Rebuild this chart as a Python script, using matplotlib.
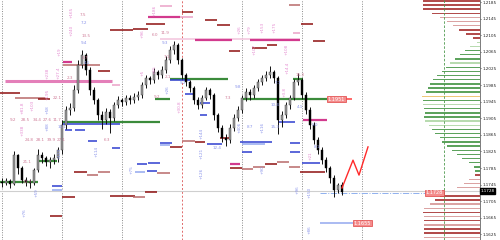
import matplotlib
matplotlib.use("Agg")
import matplotlib.pyplot as plt
import numpy as np

# --- price bars (one bar every slot, prices) ---
closes = [1.1749, 1.1754, 1.1747, 1.1816, 1.1785, 1.1756, 1.1751, 1.1749, 1.1780, 1.1816,
          1.1809, 1.1800, 1.1804, 1.1809, 1.1828, 1.1889, 1.1925, 1.1930, 1.1973, 1.2033,
          1.2057, 1.2021, 1.1973, 1.1949, 1.1913, 1.1901, 1.1920, 1.1906, 1.1937, 1.1949,
          1.1944, 1.1954, 1.1949, 1.1956, 1.1961, 1.1985, 1.2002, 1.1997, 1.2017, 1.2009,
          1.2021, 1.2045, 1.2070, 1.2082, 1.2045, 1.2009, 1.1992, 1.1978, 1.1949, 1.1937,
          1.1954, 1.1973, 1.1961, 1.1913, 1.1882, 1.1857, 1.1853, 1.1882, 1.1906, 1.1925,
          1.1954, 1.1968, 1.1961, 1.1978, 1.1992, 1.2002, 1.2009, 1.2017, 1.2002, 1.1901,
          1.1913, 1.1937, 1.1954, 1.1992, 1.1997, 1.1961, 1.1925, 1.1889, 1.1853, 1.1828,
          1.1804, 1.1785, 1.1761, 1.1732, 1.1744, 1.1728]
highs = [1.1760, 1.1762, 1.1758, 1.1825, 1.1820, 1.1790, 1.1763, 1.1758, 1.1786, 1.1830,
         1.1824, 1.1815, 1.1812, 1.1818, 1.1836, 1.1900, 1.1935, 1.1942, 1.1985, 1.2045,
         1.2070, 1.2062, 1.2028, 1.1980, 1.1955, 1.1922, 1.1930, 1.1928, 1.1945, 1.1958,
         1.1955, 1.1962, 1.1960, 1.1965, 1.1970, 1.1992, 1.2010, 1.2008, 1.2025, 1.2022,
         1.2030, 1.2055, 1.2080, 1.2090, 1.2086, 1.2050, 1.2015, 1.1998, 1.1983, 1.1956,
         1.1962, 1.1980, 1.1978, 1.1965, 1.1918, 1.1888, 1.1866, 1.1890, 1.1915, 1.1934,
         1.1962, 1.1978, 1.1975, 1.1986, 1.2000, 1.2010, 1.2018, 1.2030, 1.2022, 1.2006,
         1.1922, 1.1945, 1.1962, 1.2000, 1.2014, 1.2002, 1.1968, 1.1932, 1.1895, 1.1860,
         1.1835, 1.1812, 1.1790, 1.1768, 1.1750, 1.1752]
lows = [1.1740, 1.1743, 1.1738, 1.1744, 1.1770, 1.1748, 1.1742, 1.1736, 1.1745, 1.1776,
        1.1798, 1.1790, 1.1786, 1.1795, 1.1800, 1.1818, 1.1880, 1.1912, 1.1922, 1.1965,
        1.2025, 1.2010, 1.1962, 1.1940, 1.1900, 1.1880, 1.1892, 1.1870, 1.1898, 1.1930,
        1.1935, 1.1936, 1.1940, 1.1942, 1.1948, 1.1955, 1.1978, 1.1988, 1.1990, 1.2000,
        1.2002, 1.2015, 1.2038, 1.2060, 1.2035, 1.2000, 1.1982, 1.1968, 1.1940, 1.1928,
        1.1930, 1.1948, 1.1952, 1.1900, 1.1872, 1.1848, 1.1838, 1.1846, 1.1875, 1.1898,
        1.1918, 1.1946, 1.1950, 1.1955, 1.1970, 1.1985, 1.1995, 1.2002, 1.1990, 1.1868,
        1.1885, 1.1905, 1.1928, 1.1948, 1.1985, 1.1952, 1.1915, 1.1878, 1.1842, 1.1818,
        1.1795, 1.1775, 1.1750, 1.1715, 1.1725, 1.1720]
opens = [1.1752] + closes[:-1]

# --- projected path (red zigzag) ---
proj_bar = [85, 87.75, 89.25, 91.5]
proj_price = [1.1737, 1.1804, 1.1768, 1.1836]

# --- level segments: price, first bar, last bar, kind ---
seg_price = [1.1995, 1.1966, 1.1954, 1.1951, 1.2118, 1.2120, 1.2132, 1.2149, 1.2176, 1.2019,
             1.2033, 1.2041, 1.1985, 1.2161, 1.2149, 1.2142, 1.2130, 1.2096, 1.2094, 1.2094,
             1.2067, 1.2074, 1.2082, 1.2178, 1.2132, 1.2110, 1.2091, 1.2000, 1.1997, 1.1951,
             1.1951, 1.2000, 1.1963, 1.1942, 1.1913, 1.1751, 1.1802, 1.1896, 1.1891, 1.1877,
             1.1877, 1.1850, 1.1833, 1.1845, 1.1841, 1.1795, 1.1797, 1.1775, 1.1778, 1.1775,
             1.1768, 1.1775, 1.1773, 1.1742, 1.1732, 1.1715, 1.1718, 1.1715, 1.1727, 1.1669,
             1.1836, 1.1850, 1.1848, 1.1843, 1.1843, 1.1824, 1.1845, 1.1824, 1.1795, 1.1785,
             1.1783, 1.1788, 1.1795, 1.1800, 1.1788, 1.1797, 1.1775, 1.1901, 1.1896, 1.1848,
             1.1652, 1.1857, 1.1951]
seg_start = [0.75, -0.5, 3.25, 9, 27, 32.75, 36, 36.5, 39.5, 24,
             15.25, 15.25, 27.5, 45, 44.5, 50.75, 53.75, 39.5, 48.25, 62,
             56.75, 62.5, 66.25, 71.75, 74.75, 72.75, 77.75, 42, 42, 38.25,
             60, 72.75, 45.75, 49.5, 49.5, -0.5, 8.75, 15.25, 15, 15.75,
             18.25, 21.5, 27.5, 39.5, 39.5, 33.75, 36.5, 33.25, 36.25, 18,
             21.25, 24, 38.75, 12.5, 12.5, 15, 27, 32.75, 35.75, 12,
             42, 45, 48.25, 51.25, 60, 60, 72, 72, 57, 57,
             60, 62.75, 65.75, 68.75, 71.75, 75, 74.5, 75.25, 69, 59.5,
             79.5, 54.5, 85.75]
seg_end = [27.5, 4.5, 10.75, 12, 32.75, 36.5, 40.75, 44.5, 42.5, 27,
           24.5, 17.5, 29.5, 47.75, 47.75, 53.75, 57, 74.5, 57.5, 74.5,
           59.5, 66.25, 68.75, 74.5, 77.75, 74.5, 80.75, 56.5, 47, 42,
           81.25, 75.25, 48.25, 52, 51.25, 9, 13.75, 39.5, 29.5, 17.5,
           20.75, 23.75, 29.5, 42.5, 42, 36.25, 39.5, 35.75, 38.75, 21.25,
           24, 27, 42, 15, 15, 18.25, 33.25, 35.75, 38.75, 15,
           45, 48.25, 50.75, 55, 65.75, 62.5, 74.5, 74.5, 59.5, 60,
           62.75, 65.75, 68.75, 71.75, 74.5, 79.5, 80.75, 81.25, 73.25, 67.5,
           87.75, 57, 87.5]
seg_kind = ["pinkthick", "dred", "brown", "dred", "dred", "dred", "dred", "mag", "pink", "dred",
            "brown", "mag", "pink", "dred", "pink", "dred", "dred", "lpink", "mag", "mag",
            "dred", "dred", "dred", "brown", "dred", "pink", "dred", "green", "blue", "green",
            "green", "green", "blue", "blue", "blue", "green", "green", "green", "blue", "blue",
            "blue", "blue", "blue", "blue", "lblue", "blue", "blue", "lblue", "blue", "dred",
            "brown", "brown", "brown", "blue", "lblue", "dred", "dred", "brown", "dred", "dred",
            "dred", "brown", "dred", "blue", "lblue", "blue", "blue", "blue", "mag", "dred",
            "brown", "brown", "dred", "brown", "brown", "blue", "dred", "mag", "blue", "blue",
            "lblue", "dred", "red"]

# --- small volume/delta labels ---
ann_text = ["+165", "+240", "7.5", "7.2", "13.5", "9.4", "+19", "+238", "+27.4", "+195",
            "+58", "22.1", "3.7", "4.1", "2.3", "+96", "+186", "6.0", "+5", "+65",
            "9.2", "9.2", "28.5", "34.4", "27.6", "11.7", "+81.8", "+103", "+88", "+338",
            "24.8", "28.1", "39.9", "27.1", "21.1", "10.3", "+123", "+59", "+76", "+114",
            "6.3", "+75", "10.1", "+144", "+121", "+126", "12.4", "+116", "+90", "+96",
            "+150", "+86", "8.7", "15.3", "5.0", "+406", "11.9", "9.3", "7.1",
            "2.1", "9.2", "+30.8", "+26", "+26", "+79", "+107", "+153", "+175", "+108",
            "9.8", "7.3", "7.1", "+14.4", "15.3", "10.4", "+3.8", "4.1", "8.1", "+21"]
ann_bar = [17.5, 17.5, 20.25, 20.5, 21, 20.5, 14.5, 11.5, 14.25, 11.5,
           11.5, 13.75, 20.75, 21.25, 17, 35.25, 38.25, 38.25, 35.25, 38.25,
           38.75, 2.75, 5.75, 8.75, 11.25, 13.75, 5.25, 7.75, 11.5, 5.25,
           6.75, 9.5, 12.25, 14.75, 6.25, 6.25, 14.5, 8.75, 5.75, 23.75,
           26.25, 32.5, 15, 50, 50, 50, 53.75, 65.25, 65.25, 74,
           77, 77, 62, 68.25, 78.25, 59.5, 40.75, 40.75, 41.25,
           41.5, 45.25, 44.5, 41.5, 59.5, 62, 63.25, 65.25, 68.25, 71.25,
           59, 56.5, 69, 71.5, 74.5, 68.25, 70.75, 74.5, 78.75, 77.25]
ann_price = [1.2161, 1.2118, 1.2154, 1.2135, 1.2103, 1.2086, 1.2065, 1.2014, 1.2014, 1.1963,
             1.1925, 1.1954, 1.2050, 1.2038, 1.2002, 1.2110, 1.2166, 1.2106, 1.2014, 1.2021,
             1.1956, 1.1901, 1.1901, 1.1901, 1.1901, 1.1901, 1.1930, 1.1937, 1.1884, 1.1877,
             1.1853, 1.1853, 1.1853, 1.1853, 1.1800, 1.1751, 1.1821, 1.1725, 1.1677, 1.1824,
             1.1853, 1.1780, 1.1884, 1.1869, 1.1821, 1.1773, 1.1833, 1.1882, 1.1780, 1.1732,
             1.1727, 1.1636, 1.1884, 1.1884, 1.1889, 1.1884, 1.2110, 1.2086, 1.2053,
             1.2004, 1.1990, 1.1932, 1.1973, 1.2118, 1.2118, 1.2070, 1.2123, 1.2125, 1.2070,
             1.1980, 1.1954, 1.1990, 1.2026, 1.2009, 1.1937, 1.1968, 1.1932, 1.1836, 1.1815]
ann_kind = ["pv", "pv", "m", "b", "m", "b", "pv", "pv", "pv", "pv",
            "bv", "m", "m", "b", "m", "pv", "pv", "m", "pv", "pv",
            "m", "m", "m", "m", "m", "m", "pv", "pv", "bv", "pv",
            "m", "m", "m", "m", "m", "m", "bv", "bv", "bv", "bv",
            "m", "bv", "b", "bv", "bv", "bv", "b", "bv", "bv", "bv",
            "bv", "bv", "b", "b", "b", "bv", "m", "b", "m",
            "m", "b", "pv", "bv", "pv", "pv", "pv", "pv", "pv", "pv",
            "b", "m", "b", "pv", "m", "b", "pv", "b", "b", "pv"]

# --- volume profile on the right ---
profile_price = [1.2188, 1.2178, 1.2168, 1.2158, 1.2148, 1.2138, 1.2128, 1.2118, 1.2108, 1.2098,
                 1.2088, 1.2078, 1.2068, 1.2058, 1.2048, 1.2038, 1.2028, 1.2018, 1.2008, 1.1998,
                 1.1988, 1.1978, 1.1968, 1.1958, 1.1948, 1.1938, 1.1928, 1.1918, 1.1908, 1.1898,
                 1.1888, 1.1878, 1.1868, 1.1858, 1.1848, 1.1838, 1.1828, 1.1818, 1.1808, 1.1798,
                 1.1788, 1.1778, 1.1768, 1.1758, 1.1748, 1.1738, 1.1728, 1.1718, 1.1708, 1.1698,
                 1.1688, 1.1678, 1.1668, 1.1658, 1.1648, 1.1638, 1.1628, 1.1618]
profile_vol = [57, 57, 57, 48, 40, 33, 27, 21, 14, 7,
               3, 10, 15, 20, 25, 30, 34, 38, 43, 47,
               50, 52, 54, 58, 57, 57, 56, 55, 56, 55,
               51, 48, 45, 40, 38, 33, 28, 23, 18, 11,
               6, 5, 5, 11, 16, 23, 30, 40, 45, 50,
               56, 57, 56, 56, 56, 56, 56, 56]
profile_kind = ["r", "r", "r", "r", "p", "p", "p", "r", "r", "r",
                "l", "l", "g", "g", "g", "l", "g", "g", "g", "g",
                "g", "g", "g", "o", "g", "l", "g", "g", "g", "l",
                "l", "g", "g", "g", "g", "g", "g", "g", "g", "g",
                "g", "g", "r", "p", "p", "p", "r", "r", "r", "p",
                "p", "r", "p", "r", "p", "r", "r", "p"]

price_ticks = [1.2185, 1.2145, 1.2105, 1.2065, 1.2025, 1.1985, 1.1945, 1.1905,
               1.1865, 1.1825, 1.1785, 1.1745, 1.1705, 1.1665, 1.1625]
session_bars = [0, 15, 30, 60, 75, 90]
last_price = 1.1728

seg_colors = {"pinkthick": "#e47fb9", "dred": "#8e0f0f", "brown": "#b86a6a", "mag": "#d23a8e",
              "pink": "#eba2c8", "lpink": "#f2c4dc", "green": "#3b8b3b", "blue": "#2f3fd0",
              "lblue": "#93a8ef", "red": "#ff4040"}
ann_colors = {"pv": "#e48ad0", "m": "#cf7c98", "b": "#8a94ea", "bv": "#8a94ea"}
prof_colors = {"r": "#b24c4c", "p": "#dba3a3", "g": "#5da35d", "l": "#b8dbb0", "o": "#eec77a"}
axis_font = ["Liberation Sans Narrow", "DejaVu Sans"]

fig = plt.figure(figsize=(5, 2.4), dpi=100)
ax = fig.add_axes([0, 0, 0.96, 1])
ax2 = fig.add_axes([0, 0, 0.96, 1], sharey=ax)
ax2.set_zorder(0)
ax.set_zorder(1)
ax.patch.set_alpha(0)

ylo, yhi = 1.16116, 1.2190
ax.set_ylim(ylo, yhi)
ax.set_xlim(-0.5, 119.5)

# profile (drawn from the right edge leftwards)
ax2.barh(profile_price, profile_vol, height=0.00034,
         color=[prof_colors[k] for k in profile_kind], linewidth=0)
ax2.set_xlim(480, 0)
ax2.axvline(36, color="#4f9a4f", lw=0.6, ls=(0, (3, 2)))
ax2.axis("off")

# session separators
for b in session_bars:
    ax.axvline(b, color="#8a8a8a", lw=0.7, ls=(0, (1, 1.5)), zorder=1)
ax.axvline(45, color="#e06a6a", lw=0.7, ls=(0, (2, 2)), zorder=1)

# last price line
ax.axhline(last_price + 0.0002, color="#cfcfcf", lw=0.8, zorder=1)
ax.plot([79.5, 105.75], [1.1725, 1.1725], color="#8fb0ee", lw=0.7, ls="-.", zorder=2)

# level segments
for p, s, e, k in zip(seg_price, seg_start, seg_end, seg_kind):
    lw = 2.2 if k == "pinkthick" else (1.6 if k in ("green", "mag") else 1.1)
    ax.plot([s, e], [p, p], color=seg_colors[k], lw=lw, solid_capstyle="butt", zorder=2)

# candles
idx = np.arange(len(closes))
o = np.array(opens)
c = np.array(closes)
up = c >= o
ax.vlines(idx, lows, highs, color="#111111", lw=0.7, zorder=3)
ax.bar(idx[up], (c - o)[up], bottom=o[up], width=0.7, color="#9a9a9a",
       edgecolor="#333333", linewidth=0.3, zorder=4)
ax.bar(idx[~up], (c - o)[~up], bottom=o[~up], width=0.7, color="#000000",
       edgecolor="#000000", linewidth=0.3, zorder=4)

# projection
ax.plot(proj_bar, proj_price, color="#ff2a2a", lw=1.0, zorder=5)

# labels
for t, b, p, k in zip(ann_text, ann_bar, ann_price, ann_kind):
    rot = 90 if k in ("pv", "bv") else 0
    ax.text(b, p, t, color=ann_colors[k], fontsize=3.0, rotation=rot,
            ha="center", va="center", zorder=6)

box = dict(boxstyle="square,pad=0.15", fc="#f48c8c", ec="#e04040", lw=0.5)
ax.text(81.5, 1.1951, "1.1951", fontsize=3.6, color="white", va="center", ha="left", bbox=box, zorder=7)
ax.text(106.0, 1.1725, "1.1728", fontsize=3.6, color="white", va="center", ha="left", bbox=box, zorder=7)
ax.text(88.0, 1.1652, "1.1655", fontsize=3.6, color="white", va="center", ha="left", bbox=box, zorder=7)

# price axis on the right
for side in ("top", "left", "bottom"):
    ax.spines[side].set_visible(False)
ax.spines["right"].set_color("#666666")
ax.spines["right"].set_linewidth(0.6)
ax.set_xticks([])
ax.yaxis.tick_right()
ax.set_yticks(price_ticks)
ax.set_yticklabels([f"{v:.4f}" for v in price_ticks], family=axis_font)
ax.tick_params(axis="y", labelsize=3.0, length=1.0, width=0.5, pad=0.6, colors="#222222")
ax.text(1.001, (last_price + 0.0002 - ylo) / (yhi - ylo), f"{last_price:.4f}",
        transform=ax.transAxes, fontsize=3.0, family=axis_font, color="white",
        va="center", ha="left",
        bbox=dict(boxstyle="square,pad=0.2", fc="black", ec="black"), zorder=8, clip_on=False)

fig.savefig("out.png", dpi=100, facecolor="white")
